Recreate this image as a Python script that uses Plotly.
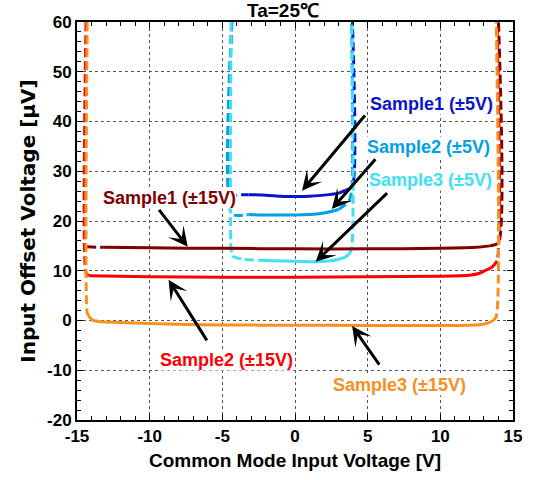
import plotly.graph_objects as go

# ---------------- data ----------------
# Sample1 (±15V)
s1_15_x = [-13.2, -10, -5, 0, 5, 10, 12.5, 13.4]
s1_15_y = [14.7, 14.6, 14.5, 14.4, 14.4, 14.5, 14.7, 15.0]
s1_15_lx = [-14.3, -13.2]
s1_15_ly = [14.8, 14.7]
s1_15_rx = [13.4, 14.0, 14.0]
s1_15_ry = [15.0, 15.6, 60]

# Sample2 (±15V)
s2_15_x = [-14.2, -10, -5, 0, 5, 10, 12, 12.7, 13.2, 13.5]
s2_15_y = [9.0, 8.8, 8.7, 8.7, 8.8, 8.9, 9.1, 9.5, 10.2, 10.6]
s2_15_lx = [-14.38, -14.38, -14.2]
s2_15_ly = [60, 9.6, 9.0]
s2_15_rx = [13.5, 13.9, 13.9]
s2_15_ry = [10.6, 12.0, 60]

# Sample3 (±15V)
s3_15_x = [-14.2, -14.0, -13.5, -12, -10, -7.5, -5, 0, 5, 10, 12, 12.8, 13.3, 13.6]
s3_15_y = [1.0, 0.2, -0.2, -0.4, -0.6, -0.8, -0.9, -0.95, -1.0, -1.0, -0.95, -0.8, -0.5, -0.1]
s3_15_lx = [-14.3, -14.3, -14.2]
s3_15_ly = [60, 1.6, 1.0]
s3_15_rx = [13.6, 13.85, 13.85]
s3_15_ry = [-0.1, 0.8, 60]

# Sample1 (±5V)
s1_5_x = [-3.2, -2, -1, 0, 1, 2, 3.0, 3.5]
s1_5_y = [25.3, 25.2, 25.0, 24.9, 25.0, 25.2, 25.6, 26.2]
s1_5_lx = [-4.35, -4.35, -3.7, -3.2]
s1_5_ly = [60, 25.4, 25.3, 25.3]
s1_5_rx = [3.5, 3.95, 3.95]
s1_5_ry = [26.2, 27.0, 60]

# Sample2 (±5V)
s2_5_x = [-3.2, -2, -1, 0, 1, 1.5, 2, 2.5, 3.0]
s2_5_y = [21.3, 21.2, 21.2, 21.2, 21.3, 21.4, 21.6, 21.9, 22.3]
s2_5_lx = [-4.35, -4.35, -3.2]
s2_5_ly = [60, 21.4, 21.3]
s2_5_rx = [3.0, 3.7, 3.9, 3.9]
s2_5_ry = [22.3, 24.0, 26.0, 60]

# Sample3 (±5V)
s3_5_x = [-2.5, -1.5, 0, 1, 1.5, 2.5, 3.0, 3.4, 3.7]
s3_5_y = [12.1, 12.0, 11.9, 11.8, 11.8, 12.0, 12.3, 12.7, 13.2]
s3_5_lx = [-4.4, -4.4, -4.3, -4.0, -3.5, -2.5]
s3_5_ly = [60, 14.5, 13.0, 12.6, 12.3, 12.1]
s3_5_rx = [3.7, 3.9, 3.9]
s3_5_ry = [13.2, 14.5, 60]

# labels and arrows
label_text = ["Sample1 (±5V)", "Sample2 (±5V)", "Sample3 (±5V)",
              "Sample1 (±15V)", "Sample2 (±15V)", "Sample3 (±15V)"]
label_x = [9.42, 9.21, 9.35, -8.66, -4.73, 7.19]
label_y = [43.5, 34.9, 28.2, 24.6, -7.9, -12.9]
tail_x = [4.9, 5.62, 6.44, -9.43, -6.0, 5.87]
tail_y = [41.5, 32.7, 25.9, 22.55, -4.3, -9.15]
head_x = [0.48, 2.53, 1.42, -7.38, -8.7, 3.93]
head_y = [26.1, 22.4, 11.8, 14.8, 8.2, -1.1]

x_ticks = [-15, -10, -5, 0, 5, 10, 15]
y_ticks = [-20, -10, 0, 10, 20, 30, 40, 50, 60]

# ---------------- style ----------------
C_DRED = "#800000"
C_RED = "#FF0000"
C_ORANGE = "#F7901E"
C_DBLUE = "#0A14C8"
C_MBLUE = "#00A0E8"
C_CYAN = "#40E0F5"
label_colors = [C_DBLUE, C_MBLUE, C_CYAN, C_DRED, C_RED, C_ORANGE]
FONT = "Liberation Sans, Arial, sans-serif"
DASH = "9px,4px"
LW = 3

fig = go.Figure()

def add(x, y, color, dash=None, width=LW):
    fig.add_trace(go.Scatter(x=x, y=y, mode="lines",
                             line=dict(color=color, width=width, dash=dash, shape="spline", smoothing=0.6),
                             showlegend=False, hoverinfo="skip"))

series = [
    (s1_5_x, s1_5_y, s1_5_lx, s1_5_ly, s1_5_rx, s1_5_ry, C_DBLUE),
    (s2_5_x, s2_5_y, s2_5_lx, s2_5_ly, s2_5_rx, s2_5_ry, C_MBLUE),
    (s3_5_x, s3_5_y, s3_5_lx, s3_5_ly, s3_5_rx, s3_5_ry, C_CYAN),
    (s1_15_x, s1_15_y, s1_15_lx, s1_15_ly, s1_15_rx, s1_15_ry, C_DRED),
    (s2_15_x, s2_15_y, s2_15_lx, s2_15_ly, s2_15_rx, s2_15_ry, C_RED),
    (s3_15_x, s3_15_y, s3_15_lx, s3_15_ly, s3_15_rx, s3_15_ry, C_ORANGE),
]
for sx, sy, lx, ly, rx, ry, col in series:
    add(lx, ly, col, DASH)
    add(rx, ry, col, DASH)
    add(sx, sy, col)

for tx, ty, hx, hy in zip(tail_x, tail_y, head_x, head_y):
    fig.add_annotation(x=hx, y=hy, ax=tx, ay=ty, xref="x", yref="y", axref="x", ayref="y",
                       text="", showarrow=True, arrowhead=3, arrowsize=1.1, arrowwidth=3,
                       arrowcolor="black", standoff=0)

for t, c, lx, ly in zip(label_text, label_colors, label_x, label_y):
    fig.add_annotation(x=lx, y=ly, xref="x", yref="y", text=t, showarrow=False,
                       font=dict(family=FONT, size=18, color=c, weight="bold"),
                       bgcolor="white", borderpad=0)

fig.add_annotation(x=-0.8, xref="x", y=1.0, yref="paper", yanchor="bottom", yshift=-1,
                   text="Ta=25℃", showarrow=False,
                   font=dict(family=FONT, size=19, color="black", weight="bold"))

axis_common = dict(
    showline=True, linecolor="black", linewidth=2, mirror="allticks",
    ticks="inside", ticklen=6, tickwidth=1, tickcolor="black",
    showgrid=True, gridcolor="#555555", gridwidth=1, griddash="dot",
    zeroline=False,
    tickfont=dict(family=FONT, size=17, color="black", weight="bold"),
)

fig.update_xaxes(range=[-15, 15], tickvals=x_ticks, ticktext=[str(v) for v in x_ticks],
                 minor=dict(dtick=1, tick0=0, ticks="inside", ticklen=4, tickcolor="black", showgrid=False),
                 title=dict(text="Common Mode Input Voltage [V]", standoff=8,
                            font=dict(family=FONT, size=19, color="black", weight="bold")),
                 **axis_common)
fig.update_yaxes(range=[-20, 60], tickvals=y_ticks, ticktext=[str(v) for v in y_ticks],
                 minor=dict(dtick=2, tick0=0, ticks="inside", ticklen=4, tickcolor="black", showgrid=False),
                 title=dict(text="Input Offset Voltage [µV]", standoff=6,
                            font=dict(family="DejaVu Sans, sans-serif", size=20, color="black", weight="bold")),
                 **axis_common)

fig.update_layout(width=534, height=480, margin=dict(l=77, r=19, t=22, b=60),
                  paper_bgcolor="white", plot_bgcolor="white",
                  font=dict(family=FONT))

fig.write_html("out.html")
